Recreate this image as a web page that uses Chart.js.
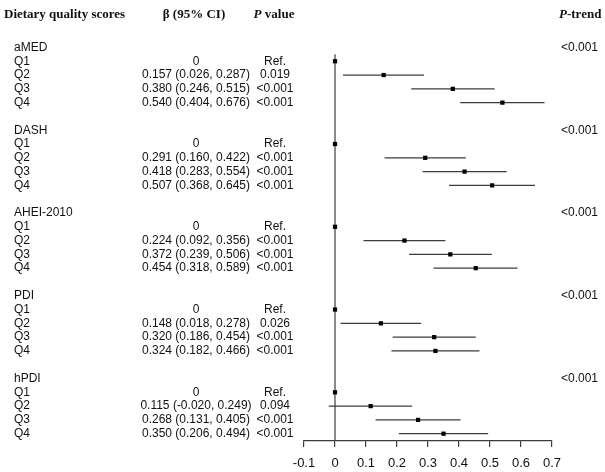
<!DOCTYPE html>
<html>
<head>
<meta charset="utf-8">
<script src="https://cdn.jsdelivr.net/npm/chart.js@4.4.1/dist/chart.umd.min.js"></script>
<style>
  html, body { margin: 0; padding: 0; background: #fff; }
</style>
</head>
<body>
<canvas id="forest-chart" width="605" height="472"></canvas>
<script>
// data
const scoreNames = ["aMED", "DASH", "AHEI-2010", "PDI", "hPDI"];
const quartiles = ["Q1", "Q2", "Q3", "Q4"];
const betaValues = [
  [0, 0.157, 0.380, 0.540],
  [0, 0.291, 0.418, 0.507],
  [0, 0.224, 0.372, 0.454],
  [0, 0.148, 0.320, 0.324],
  [0, 0.115, 0.268, 0.350],
];
const lowerCI = [
  [0, 0.026, 0.246, 0.404],
  [0, 0.160, 0.283, 0.368],
  [0, 0.092, 0.239, 0.318],
  [0, 0.018, 0.186, 0.182],
  [0, -0.020, 0.131, 0.206],
];
const upperCI = [
  [0, 0.287, 0.515, 0.676],
  [0, 0.422, 0.554, 0.645],
  [0, 0.356, 0.506, 0.589],
  [0, 0.278, 0.454, 0.466],
  [0, 0.249, 0.405, 0.494],
];
const pValues = [
  ["Ref.", "0.019", "<0.001", "<0.001"],
  ["Ref.", "<0.001", "<0.001", "<0.001"],
  ["Ref.", "<0.001", "<0.001", "<0.001"],
  ["Ref.", "0.026", "<0.001", "<0.001"],
  ["Ref.", "0.094", "<0.001", "<0.001"],
];
const pTrend = ["<0.001", "<0.001", "<0.001", "<0.001", "<0.001"];
const xTickLabels = ["-0.1", "0", "0.1", "0.2", "0.3", "0.4", "0.5", "0.6", "0.7"];

const ROWS_PER_GROUP = 6; // name + 4 quartiles + blank
const HEADER_ROW = -2.4;
const LINE_COLOR = "#3c3c3c";

function rowOf(g, q) {
  return g * ROWS_PER_GROUP + 1 + q;
}

function fmtCI(b, lo, hi) {
  if (b === 0 && lo === 0 && hi === 0) return "0";
  return b.toFixed(3) + " (" + lo.toFixed(3) + ", " + hi.toFixed(3) + ")";
}

// datasets
const pointData = [];
const ciDatasets = [];
scoreNames.forEach(function (name, g) {
  quartiles.forEach(function (q, i) {
    const r = rowOf(g, i);
    pointData.push({ x: betaValues[g][i], y: r });
    if (upperCI[g][i] !== lowerCI[g][i]) {
      ciDatasets.push({
        type: "line",
        data: [{ x: lowerCI[g][i], y: r }, { x: upperCI[g][i], y: r }],
        borderColor: LINE_COLOR,
        borderWidth: 1.2,
        pointRadius: 0,
      });
    }
  });
});
const lastRow = rowOf(scoreNames.length - 1, quartiles.length - 1);
const yMin = -3.15;
const yMax = lastRow + 0.53;

const textPlugin = {
  id: "forestText",
  afterDraw: function (chart) {
    const ctx = chart.ctx;
    const y = chart.scales.y;
    const body = "12px 'Liberation Sans', Arial, sans-serif";
    const bold = "bold 13px 'Liberation Serif', 'Times New Roman', serif";
    const boldItalic = "italic bold 13px 'Liberation Serif', 'Times New Roman', serif";
    ctx.save();
    ctx.fillStyle = "#111";
    ctx.textBaseline = "middle";

    // headers
    const hy = y.getPixelForValue(HEADER_ROW);
    ctx.font = bold;
    ctx.textAlign = "left";
    ctx.fillText("Dietary quality scores", 4, hy);
    ctx.textAlign = "center";
    ctx.fillText("\u03b2 (95% CI)", 194, hy);

    // "P value" with italic P, centered
    ctx.textAlign = "left";
    ctx.font = boldItalic;
    const wP = ctx.measureText("P").width;
    ctx.font = bold;
    const wRest = ctx.measureText(" value").width;
    const px = 274 - (wP + wRest) / 2;
    ctx.font = boldItalic;
    ctx.fillText("P", px, hy);
    ctx.font = bold;
    ctx.fillText(" value", px + wP, hy);

    // "P-trend"
    ctx.font = boldItalic;
    ctx.fillText("P", 559, hy);
    ctx.font = bold;
    ctx.fillText("-trend", 559 + wP, hy);

    // rows
    ctx.font = body;
    scoreNames.forEach(function (name, g) {
      const gy = y.getPixelForValue(g * ROWS_PER_GROUP);
      ctx.textAlign = "left";
      ctx.fillText(name, 14, gy);
      ctx.fillText(pTrend[g], 561, gy);
      quartiles.forEach(function (q, i) {
        const ry = y.getPixelForValue(rowOf(g, i));
        ctx.textAlign = "left";
        ctx.fillText(q, 14, ry);
        ctx.textAlign = "center";
        ctx.fillText(fmtCI(betaValues[g][i], lowerCI[g][i], upperCI[g][i]), 196, ry);
        ctx.fillText(pValues[g][i], 275, ry);
      });
    });
    ctx.restore();
  },
};

new Chart("forest-chart", {
  type: "scatter",
  data: {
    datasets: [
      {
        data: pointData,
        pointStyle: "rect",
        pointRadius: 3,
        backgroundColor: "#000",
        borderColor: "#000",
        borderWidth: 0,
      },
      {
        type: "line",
        data: [{ x: 0, y: 0.5 }, { x: 0, y: yMax }],
        borderColor: LINE_COLOR,
        borderWidth: 1.2,
        pointRadius: 0,
      },
    ].concat(ciDatasets),
  },
  options: {
    responsive: false,
    animation: false,
    layout: { padding: { left: 304, right: 53, top: 0, bottom: 0 } },
    plugins: {
      legend: { display: false },
      tooltip: { enabled: false },
    },
    scales: {
      x: {
        type: "linear",
        position: "bottom",
        min: -0.1,
        max: 0.7,
        grid: {
          display: true,
          drawOnChartArea: false,
          drawTicks: true,
          tickLength: 6,
          lineWidth: 1.2,
          color: LINE_COLOR,
        },
        border: { display: true, color: LINE_COLOR, width: 1.2 },
        ticks: {
          stepSize: 0.1,
          padding: 9,
          color: "#111",
          maxRotation: 0,
          font: { family: "'Liberation Sans', Arial, sans-serif", size: 13 },
          callback: function (value, index) {
            return xTickLabels[index];
          },
        },
        afterFit: function (scale) {
          scale.height = 31;
        },
      },
      y: {
        type: "linear",
        display: false,
        reverse: true,
        min: yMin,
        max: yMax,
      },
    },
  },
  plugins: [textPlugin],
});
</script>
</body>
</html>
